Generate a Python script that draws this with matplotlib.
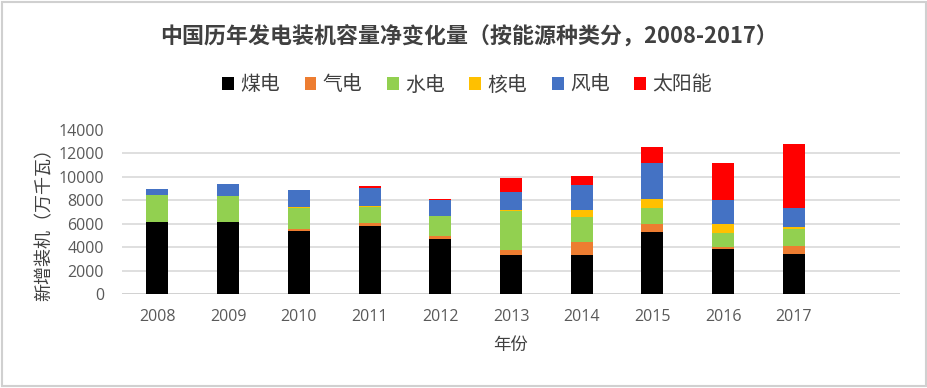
import matplotlib
matplotlib.use("Agg")
import matplotlib.pyplot as plt
from matplotlib.patches import Rectangle
import numpy as np

plt.rcParams['font.family'] = ['Noto Sans CJK SC', 'DejaVu Sans']

years = ['2008', '2009', '2010', '2011', '2012', '2013', '2014', '2015', '2016', '2017']
series_names = ['煤电', '气电', '水电', '核电', '风电', '太阳能']
coal    = [6120, 6120, 5370, 5780, 4720, 3370, 3370, 5290, 3860, 3430]
gas     = [60, 60, 150, 280, 200, 410, 1030, 710, 140, 630]
hydro   = [2260, 2220, 1780, 1370, 1710, 3280, 2170, 1380, 1200, 1520]
nuclear = [0, 0, 90, 90, 70, 140, 580, 690, 750, 140]
wind    = [490, 970, 1450, 1540, 1310, 1470, 2120, 3140, 2060, 1660]
solar   = [0, 0, 0, 140, 80, 1250, 800, 1370, 3150, 5410]
colors = ['#000000', '#ED7D31', '#92D050', '#FFC000', '#4472C4', '#FF0000']

fig = plt.figure(figsize=(9.28, 3.88), dpi=100)
ax = fig.add_axes([122/928, 1-294/388, 778/928, (294-130)/388])

x = np.arange(len(years))
bottom = np.zeros(len(years))
for name, vals, c in zip(series_names, [coal, gas, hydro, nuclear, wind, solar], colors):
    ax.bar(x, vals, width=0.31, bottom=bottom, color=c, label=name, zorder=3)
    bottom += np.array(vals)

ax.set_xlim(-0.5, 10.5)
ax.set_ylim(0, 14000)
ax.set_yticks(np.arange(0, 14001, 2000))
ax.set_xticks(x)
ax.set_xticklabels(years)
for s in ax.spines.values():
    s.set_visible(False)
ax.yaxis.grid(True, color='#D9D9D9', linewidth=1.2, zorder=0)
gl = ax.yaxis.get_gridlines()
gl[-1].set_visible(False)
ax.axhline(0, color='#D0D0D0', linewidth=1.2, zorder=2)
ax.tick_params(axis='both', length=0, labelsize=11.5, labelcolor='#595959')
ax.tick_params(axis='x', pad=11)
ax.tick_params(axis='y', pad=13)
for lab in ax.get_xticklabels() + ax.get_yticklabels():
    lab.set_family(['Open Sans', 'DejaVu Sans'])

fig.text(511/928, 1-345/388, '年份', ha='center', va='center', fontsize=12.5, color='#404040')
fig.text(45/928, 1-220/388, '新增装机（万千瓦）', ha='center', va='center', rotation=90,
         fontsize=13, color='#404040')
fig.text(469/928, 1-36/388, '中国历年发电装机容量净变化量（按能源种类分，2008-2017）',
         ha='center', va='center', fontsize=15.8, fontweight='bold', color='#404040')

handles, labels = ax.get_legend_handles_labels()
leg = fig.legend(handles, labels, loc='center', bbox_to_anchor=(467/928, 1-85/388), ncol=6,
                 frameon=False, fontsize=14.3, handlelength=0.6, handleheight=0.6,
                 handletextpad=0.3, columnspacing=1.25, labelcolor='#404040')

fig.patches.append(Rectangle((0.002, 0.004), 0.996, 0.99, transform=fig.transFigure,
                             fill=False, edgecolor='#D0D0D0', linewidth=1.5))

fig.savefig('out.png', dpi=100)
